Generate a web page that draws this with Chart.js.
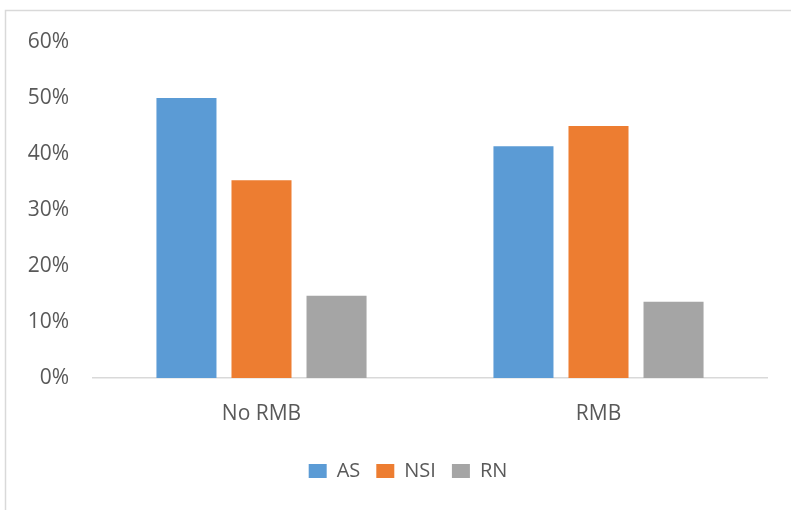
<!DOCTYPE html>
<html>
<head>
<meta charset="utf-8">
<script src="https://cdn.jsdelivr.net/npm/chart.js@4/dist/chart.umd.min.js"></script>
<style>
  html, body { margin: 0; padding: 0; background: #fff; }
  #wrap { width: 791px; height: 510px; position: relative; }
</style>
</head>
<body>
<div id="wrap"><canvas id="c" width="791" height="510"></canvas></div>
<script>
// Share of responses per group, in percent
const categories = ['No RMB', 'RMB'];
const seriesNames = ['AS', 'NSI', 'RN'];
const valuesAS = [50.0, 41.4];
const valuesNSI = [35.3, 45.0];
const valuesRN = [14.7, 13.6];
const yTicks = [0, 10, 20, 30, 40, 50, 60];

const colors = ['#5B9BD5', '#ED7D31', '#A5A5A5'];
const textColor = '#595959';
const fontFamily = '"Open Sans", "Liberation Sans", sans-serif';

// Thin frame along the top and left edges of the canvas
const framePlugin = {
  id: 'frame',
  beforeDraw(chart) {
    const ctx = chart.ctx;
    ctx.save();
    ctx.strokeStyle = '#d9d9d9';
    ctx.lineWidth = 1.5;
    ctx.beginPath();
    ctx.moveTo(5.5, chart.height);
    ctx.lineTo(5.5, 10.5);
    ctx.lineTo(chart.width, 10.5);
    ctx.stroke();
    ctx.restore();
  }
};

// Nudge the legend block a little to the right of the canvas centre
const legendShift = {
  id: 'legendShift',
  afterLayout(chart) {
    if (chart.legend) {
      chart.legend.left += 22;
      chart.legend.right += 22;
    }
  }
};

const allValues = [valuesAS, valuesNSI, valuesRN];

new Chart(document.getElementById('c'), {
  type: 'bar',
  data: {
    labels: categories,
    datasets: seriesNames.map((name, i) => ({
      label: name,
      data: allValues[i],
      backgroundColor: colors[i],
      borderWidth: 0,
      categoryPercentage: 0.668,
      barPercentage: 0.8
    }))
  },
  options: {
    responsive: false,
    animation: false,
    devicePixelRatio: 1,
    layout: { padding: { left: 5, right: 24, top: 42, bottom: 19 } },
    plugins: {
      legend: {
        position: 'bottom',
        labels: {
          boxWidth: 18,
          boxHeight: 14,
          padding: 16,
          color: textColor,
          font: { family: fontFamily, size: 20 }
        }
      },
      tooltip: { enabled: false }
    },
    scales: {
      x: {
        grid: { display: false, drawTicks: false },
        border: { display: true, color: '#d9d9d9', width: 1.5 },
        ticks: {
          color: textColor,
          padding: 23,
          font: { family: fontFamily, size: 21 }
        },
        afterFit(scale) { scale.height = 67; }
      },
      y: {
        min: yTicks[0],
        max: yTicks[yTicks.length - 1],
        afterBuildTicks(scale) { scale.ticks = yTicks.map(v => ({ value: v })); },
        grid: { display: false, drawTicks: false },
        border: { display: false },
        ticks: {
          color: textColor,
          padding: 24,
          font: { family: fontFamily, size: 21 },
          callback: v => v + '%'
        },
        afterFit(scale) { scale.width = 88; }
      }
    }
  },
  plugins: [framePlugin, legendShift]
});
</script>
</body>
</html>
